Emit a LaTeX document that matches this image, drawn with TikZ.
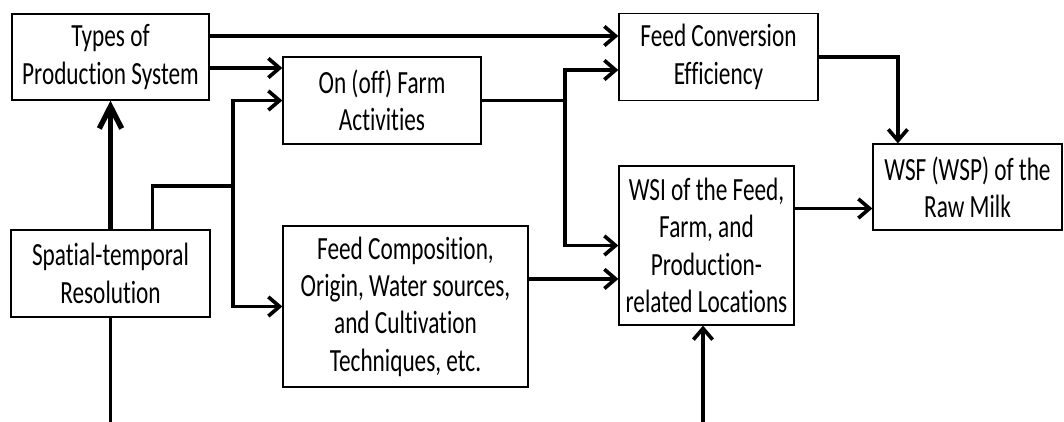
\documentclass[tikz,border=0pt]{standalone}
\usepackage{fontspec}
\setmainfont{Carlito}[FakeStretch=0.72,Ligatures=NoCommon]
\usepackage{tikz}
\usetikzlibrary{arrows.meta,calc}

\begin{document}
\begin{tikzpicture}[ln/.style={line width=2.6pt},
  ar/.style={ln,-{Straight Barb[length=2.8mm,width=4.8mm]}},
  thk/.style={line width=3.8pt,-{Straight Barb[length=5.5mm,width=5.6mm]}},
  bx/.style={draw,line width=0.9pt,fill=white,inner sep=0pt,align=center,font=\fontsize{23}{26.5}\selectfont}]
  \clip (0,0) rectangle (26.6,10.525);
  \node[bx,minimum width=4.925cm,minimum height=2.15cm] (types) at (2.7625,9.1) {Types of\\Production System};
  \node[bx,minimum width=4.95cm,minimum height=2.175cm] (farm) at (9.55,8.0125) {On (off) Farm\\Activities};
  \node[bx,minimum width=4.975cm,minimum height=2.175cm] (fce) at (17.9625,9.1) {Feed Conversion\\Efficiency};
  \node[bx,minimum width=4.725cm,minimum height=2.15cm] (wsf) at (24.1875,5.85) {WSF (WSP) of the\\Raw Milk};
  \node[bx,minimum width=4.375cm,minimum height=3.975cm] (wsi) at (17.6625,4.3875) {WSI of the Feed,\\Farm, and\\Production-\\related Locations};
  \node[bx,minimum width=4.975cm,minimum height=2.175cm] (spat) at (2.7625,3.6875) {Spatial-temporal\\Resolution};
  \node[bx,minimum width=6.125cm,minimum height=4.025cm] (comp) at (10.1375,2.8625) {Feed Composition,\\Origin, Water sources,\\and Cultivation\\Techniques, etc.};
  % junctions
  \coordinate (t1) at ([yshift=5.25mm]types.east);
  \coordinate (t2) at ([yshift=-2.75mm]types.east);
  \coordinate (j) at (5.825,5.875);
  \coordinate (k) at (14.125,8.0125);
  \coordinate (f1) at ([yshift=-3.25mm]fce.west);
  \coordinate (c1) at ([yshift=6.9mm]comp.east);
  \coordinate (w1) at ([yshift=9.25mm]wsi.east);
  \coordinate (d1) at ([xshift=-17.4mm]wsf.north);
  \coordinate (b1) at (17.575,-0.4);
  % connectors
  \draw[ar] (t1) -- (t1 -| fce.west);
  \draw[ar] (t2) -- (t2 -| farm.west);
  \draw[thk] (spat.north) -- (types.south);
  \draw[ln] ([xshift=1.05cm]spat.north) |- (j);
  \draw[ar] (j) |- (farm.west);
  \draw[ar] (j) |- (comp.west);
  \draw[ln] (farm.east) -- (k);
  \draw[ar] (k) |- (f1);
  \draw[ar] (k) |- (wsi.west);
  \draw[ar] (c1) -- (c1 -| wsi.west);
  \draw[ar] (fce.east) -| (d1);
  \draw[ar] (w1) -- (w1 -| wsf.west);
  \draw[ar] (spat.south) |- (b1) -- (b1 |- wsi.south);
\end{tikzpicture}
\end{document}
